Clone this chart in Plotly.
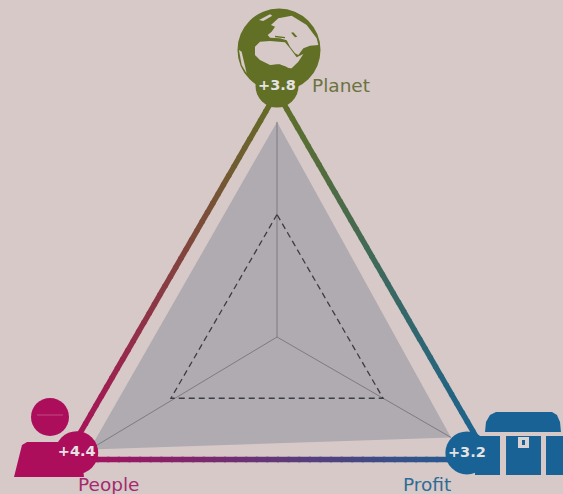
import math
import plotly.graph_objects as go

# radar data, order is Planet, People, Profit
pillars = ['Planet', 'People', 'Profit']
scores = ['+3.8', '+4.4', '+3.2']
axis_angles = [90, 210, 330]
area_angles = [90, 211, 330]
outer_r = [5.0, 5.0, 5.0]
area_r = [4.39, 4.46, 4.1]
dashed_r = [2.5, 2.5, 2.5]
badge_r = [5.12, 4.72, 4.54]
badge_angles = [90, 210, 328.6]

BG = '#d6c9c8'
OLIVE = (98, 112, 38)
MAGENTA = (172, 14, 92)
BLUE = (24, 98, 150)
colors = [OLIVE, MAGENTA, BLUE]
W, H = 563, 494
CX, CY, UNIT = 277, 337, 49


def xy(r, a):
    return r * math.cos(math.radians(a)), r * math.sin(math.radians(a))


def rgb(c):
    return 'rgb(%d,%d,%d)' % tuple(c)


def closed(rs, angles):
    pts = [xy(r, a) for r, a in zip(rs, angles)]
    pts.append(pts[0])
    return [p[0] for p in pts], [p[1] for p in pts]


# pixel helpers for the icons, they sit in paper coordinates
def px(x, y):
    return '%.4f %.4f' % (x / W, 1 - y / H)


def path(points):
    return 'M' + ' L'.join(px(x, y) for x, y in points) + ' Z'


def globe(points):
    return path([(235 + a / 3, 5 + b / 3) for a, b in points])


def circle(x, y, r, color):
    return dict(type='circle', xref='paper', yref='paper', layer='below',
                x0=(x - r) / W, x1=(x + r) / W, y0=1 - (y + r) / H, y1=1 - (y - r) / H,
                fillcolor=color, line=dict(width=0))


def poly(d, color):
    return dict(type='path', xref='paper', yref='paper', layer='below', path=d,
                fillcolor=color, line=dict(width=0))


fig = go.Figure()

# grey area
x, y = closed(area_r, area_angles)
fig.add_trace(go.Scatter(x=x, y=y, mode='lines', fill='toself', fillcolor='#b0aab1',
                         line=dict(width=0), hoverinfo='skip'))

# spokes
for r, a in zip(area_r, area_angles):
    p = xy(r, a)
    fig.add_trace(go.Scatter(x=[0, p[0]], y=[0, p[1]], mode='lines',
                             line=dict(color='#7f7a80', width=1), hoverinfo='skip'))

# dashed inner triangle
x, y = closed(dashed_r, axis_angles)
fig.add_trace(go.Scatter(x=x, y=y, mode='lines',
                         line=dict(color='#3c3c44', width=1.3, dash='6px,4px'),
                         hoverinfo='skip'))

# outer triangle, plotly has no gradient line so it is cut in short pieces
STEPS = 40
for i in range(3):
    j = (i + 1) % 3
    p0 = xy(outer_r[i], axis_angles[i])
    p1 = xy(outer_r[j], axis_angles[j])
    for s in range(STEPS):
        t0, t1 = s / STEPS, (s + 1.2) / STEPS
        mid = (s + 0.5) / STEPS
        c = [colors[i][k] + (colors[j][k] - colors[i][k]) * mid for k in range(3)]
        fig.add_trace(go.Scatter(x=[p0[0] + (p1[0] - p0[0]) * t0, p0[0] + (p1[0] - p0[0]) * min(t1, 1)],
                                 y=[p0[1] + (p1[1] - p0[1]) * t0, p0[1] + (p1[1] - p0[1]) * min(t1, 1)],
                                 mode='lines', line=dict(color=rgb(c), width=5.5),
                                 hoverinfo='skip'))

# score badges
bx = [xy(r, a)[0] for r, a in zip(badge_r, badge_angles)]
by = [xy(r, a)[1] for r, a in zip(badge_r, badge_angles)]
fig.add_trace(go.Scatter(x=bx, y=by, mode='markers+text', text=scores, textposition='middle center',
                         textfont=dict(family='DejaVu Sans', size=14.5, color='#e4e2e2', weight='bold'),
                         marker=dict(size=43, color=[rgb(c) for c in colors], line=dict(width=0)),
                         cliponaxis=False, hoverinfo='skip'))

shapes = []

# globe
olive = rgb(OLIVE)
shapes.append(circle(279, 50, 41.5, olive))
land = [
    [(108, 60), (130, 40), (170, 32), (215, 60), (245, 100), (250, 120), (225, 122), (205, 130),
     (190, 150), (180, 145), (165, 125), (155, 106), (135, 100), (105, 98), (98, 90), (110, 80), (120, 65)],
    [(60, 125), (75, 110), (105, 108), (150, 112), (165, 130), (185, 157), (205, 147), (190, 170),
     (170, 190), (155, 190), (135, 178), (105, 180), (75, 165), (60, 150)],
    [(72, 45), (105, 28), (112, 32), (85, 48)],
    [(12, 135), (20, 140), (28, 175), (35, 205), (20, 180)],
]
for piece in land:
    shapes.append(poly(globe(piece), BG))
# small inland seas
shapes.append(poly(globe([(168, 83), (175, 82), (187, 95), (180, 97)]), olive))
shapes.append(poly(globe([(120, 92), (150, 96), (150, 100), (120, 97)]), olive))

# person
magenta = rgb(MAGENTA)
shapes.append(circle(50, 417, 19, magenta))
shapes.append(dict(type='line', xref='paper', yref='paper', layer='below',
                   x0=37 / W, x1=63 / W, y0=1 - 415 / H, y1=1 - 415 / H,
                   line=dict(color='#c14a80', width=1)))
shapes.append(poly(path([(14, 477), (22, 445), (27, 442), (72, 442), (80, 445), (84, 477)]), magenta))

# chest
blue = rgb(BLUE)
shapes.append(poly(path([(485, 432), (486, 422), (490, 415), (496, 412), (552, 412), (557, 415),
                         (560, 422), (561, 432)]), blue))
shapes.append(poly(path([(475, 436), (500, 436), (500, 475), (475, 475)]), blue))
shapes.append(poly(path([(506, 436), (541, 436), (541, 475), (506, 475)]), blue))
shapes.append(poly(path([(546, 436), (563, 436), (563, 475), (546, 475)]), blue))
shapes.append(poly(path([(518, 437), (529, 437), (529, 448), (518, 448)]), '#d9d3d3'))
shapes.append(poly(path([(522, 440), (525, 440), (525, 445), (522, 445)]), blue))

# pillar names, placed in pixels from the top left
label_pos = [(341, 86), (108, 484), (427, 484.5)]
label_colors = ['#6b7340', '#a6296e', '#2f6c96']
annotations = [dict(text=name, x=p[0] / W, y=1 - p[1] / H, xref='paper', yref='paper',
                    showarrow=False, xanchor='center', yanchor='middle',
                    font=dict(family='DejaVu Sans', size=18.5, color=c))
               for name, p, c in zip(pillars, label_pos, label_colors)]

fig.update_layout(
    width=W, height=H, margin=dict(l=0, r=0, t=0, b=0),
    paper_bgcolor=BG, plot_bgcolor=BG, showlegend=False,
    shapes=shapes, annotations=annotations,
    xaxis=dict(visible=False, range=[-CX / UNIT, (W - CX) / UNIT], fixedrange=True),
    yaxis=dict(visible=False, range=[-(H - CY) / UNIT, CY / UNIT], fixedrange=True),
)

fig.write_html("out.html", config={'displayModeBar': False},
               post_script="document.body.style.margin='0';document.body.style.background='%s';" % BG)
